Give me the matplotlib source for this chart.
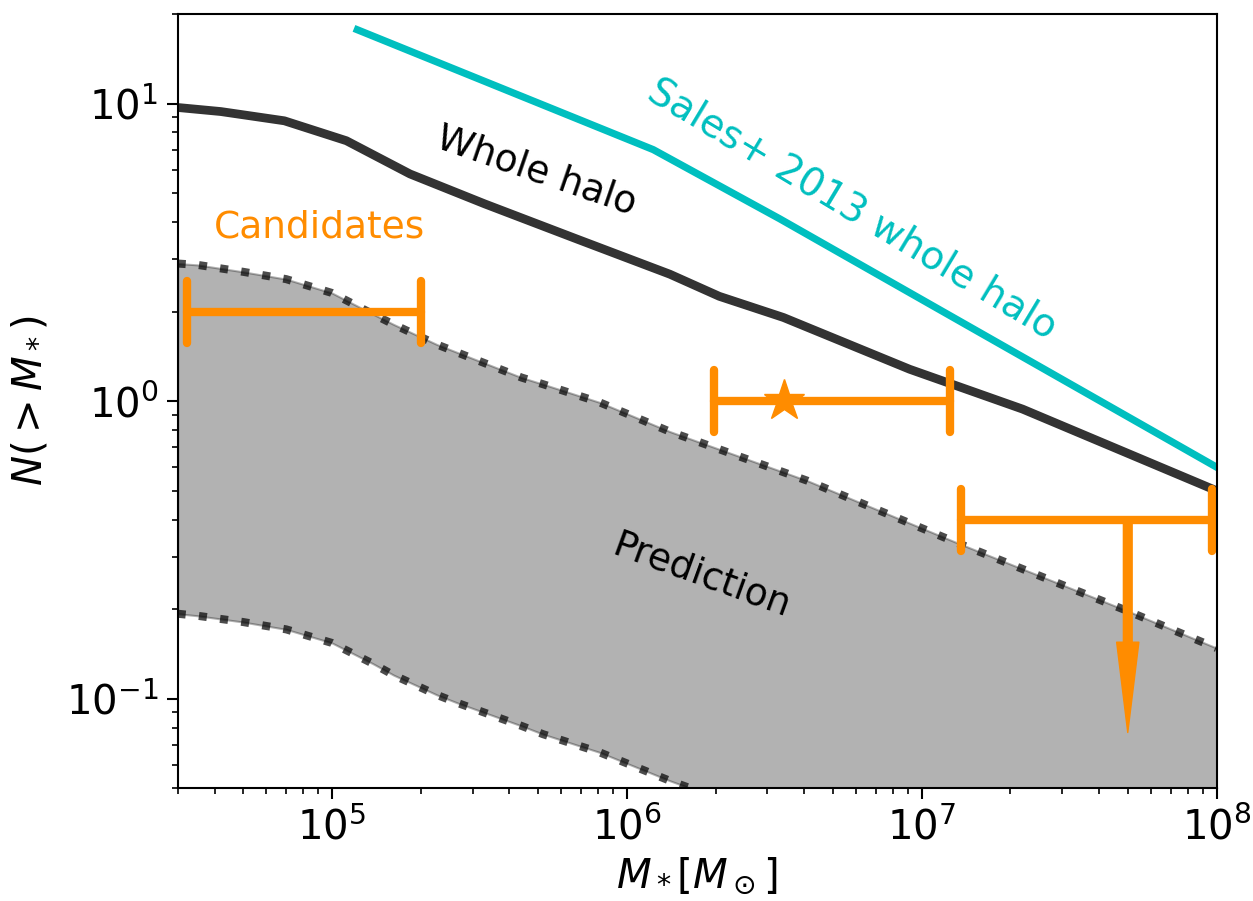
import numpy as np
import matplotlib
matplotlib.use("Agg")
import matplotlib.pyplot as plt
from matplotlib.markers import MarkerStyle


# ----------------------------------------------------------------------
# 1. DATA
# ----------------------------------------------------------------------

# whole halo (simulation), cumulative count
halo_mass = [3.0e4, 4.2e4, 6.9e4, 1.12e5, 1.84e5, 3.3e5, 6.8e5, 1.4e6,
             2.06e6, 3.4e6, 9.1e6, 2.2e7, 1.0e8]
halo_n = [9.7, 9.4, 8.75, 7.5, 5.8, 4.6, 3.5, 2.67,
          2.25, 1.91, 1.28, 0.94, 0.50]

# Sales+ 2013 whole halo
sales_mass = [1.22e5, 1.23e6, 3.3e6, 1.0e8]
sales_n = [17.7, 7.0, 4.1, 0.60]

# prediction band
pred_mass = [3.0e4, 3.5e4, 5.0e4, 7.0e4, 1.0e5, 1.38e5, 1.62e5, 2.27e5,
             2.65e5, 4.4e5, 5.2e5, 8.1e5, 1.4e6, 4.1e6, 1.32e7, 5.0e7, 1.0e8]
pred_hi = [2.9, 2.87, 2.72, 2.57, 2.31, 1.96, 1.81, 1.55,
           1.46, 1.2, 1.14, 0.99, 0.79, 0.54, 0.334, 0.197, 0.148]
pred_lo = [0.193, 0.19, 0.181, 0.171, 0.154, 0.131, 0.120, 0.103,
           0.097, 0.081, 0.076, 0.066, 0.053, 0.036, 0.022, 0.013, 0.0099]

# candidates: centre, low edge, high edge, N
cand_x = [8.0e4, 3.42e6, 5.0e7]
cand_lo = [3.23e4, 1.98e6, 1.36e7]
cand_hi = [2.01e5, 1.25e7, 9.64e7]
cand_n = [2.0, 1.0, 0.40]
cand_fmt = ["none", "*", "none"]
upper_limit_tip = 0.077


# ----------------------------------------------------------------------
# 2. PLOTTING
# ----------------------------------------------------------------------

fig = plt.figure(figsize=(12.53, 9.01), dpi=100)
ax = fig.add_axes([0.1418, 0.1251, 0.8291, 0.8594])
ax.set_xscale("log")
ax.set_yscale("log")

orange = "darkorange"

# prediction band
ax.fill_between(pred_mass, pred_lo, pred_hi, color="k", alpha=0.3, lw=1.5)
ax.plot(pred_mass, pred_hi, ls=":", color="k", alpha=0.7, lw=5.8)
ax.plot(pred_mass, pred_lo, ls=":", color="k", alpha=0.7, lw=5.8)

# whole halo + Sales
ax.plot(halo_mass, halo_n, color="k", alpha=0.8, lw=6.3,
        solid_joinstyle="round")
ax.plot(sales_mass, sales_n, color="c", lw=5.2)

# candidates
for i in range(len(cand_x)):
    xerr = [[cand_x[i] - cand_lo[i]], [cand_hi[i] - cand_x[i]]]
    line, caps, bars = ax.errorbar(cand_x[i], cand_n[i], xerr=xerr,
                                   fmt=cand_fmt[i], color=orange, ms=31,
                                   ecolor=orange, elinewidth=6, capsize=22,
                                   capthick=6)
    for c in caps:
        c.set_marker(MarkerStyle("|", capstyle="round"))
    for b in bars:
        b.set_capstyle("round")
ax.annotate("", xy=(cand_x[2], upper_limit_tip), xytext=(cand_x[2], cand_n[2]),
            arrowprops=dict(color=orange, width=6.3, headwidth=16,
                            headlength=65, shrink=0))

# labels on the plot
fs = 27
ax.text(4.93e5, 5.92, "Whole halo", color="k", fontsize=fs, rotation=-19,
        ha="center", va="center", rotation_mode="anchor")
ax.text(5.82e6, 4.4, "Sales+ 2013 whole halo", color="c", fontsize=28,
        rotation=-31, ha="center", va="center", rotation_mode="anchor")
ax.text(9.1e4, 3.83, "Candidates", color=orange, fontsize=fs,
        ha="center", va="center")
ax.text(1.79e6, 0.259, "Prediction", color="k", fontsize=fs, rotation=-20,
        ha="center", va="center", rotation_mode="anchor")

ax.set_xlim(3e4, 1e8)
ax.set_ylim(0.05, 20)
ax.set_xlabel(r"$M_*[M_\odot]$", fontsize=29, labelpad=5)
ax.set_ylabel(r"$N(>M_*)$", fontsize=29, labelpad=11)
ax.tick_params(which="major", labelsize=29, length=8, width=1.5, pad=6)
ax.tick_params(which="minor", length=4.5, width=1.2)
for sp in ax.spines.values():
    sp.set_linewidth(1.5)

fig.savefig("out.png", dpi=100)
